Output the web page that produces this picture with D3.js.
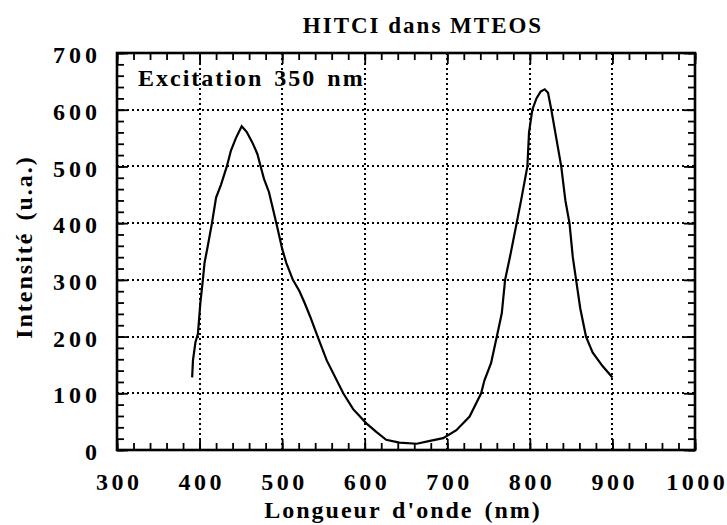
<!DOCTYPE html>
<html><head><meta charset="utf-8">
<script src="https://cdn.jsdelivr.net/npm/d3@7"></script>
<style>body{margin:0;background:#fff}</style>
</head><body>
<svg id="c" width="727" height="525"></svg>
<script>
const wavelength = [391,392,395,398,401,404,406,410,415,420,426,433,438,444,451,457,464,470,474,478,484,493,500,505,513,521,527,534,543,554,574,586,602,614,626,642,663,679,695,711,727,741,745,753,760,766,770,776,784,790,797,799,803,808,813,818,822,826,832,838,843,848,852,856,861,868,876,888,900];
const intensity  = [128,158,190,205,260,300,330,360,400,445,468,500,528,550,571,561,542,522,500,478,455,400,355,330,300,280,260,235,200,158,100,72,47,32,18,13,11,16,21,35,59,100,123,153,200,241,300,341,400,445,500,560,600,620,632,636,630,600,550,500,440,400,340,300,250,200,172,148,128];
const xTicks = [300,400,500,600,700,800,900,1000];
const yTicks = [0,100,200,300,400,500,600,700];
const titleText = "HITCI dans MTEOS";
const annotation = "Excitation 350 nm";
const xLabel = "Longueur d'onde (nm)";
const yLabel = "Intensité (u.a.)";

const svg = d3.select("#c");
const x = d3.scaleLinear().domain([300,1000]).range([117,695]);
const y = d3.scaleLinear().domain([0,700]).range([450,53]);
const font = "'Liberation Serif','Times New Roman',Times,serif";

// grid (dotted)
const grid = svg.append("g").attr("class","grid");
grid.selectAll("line.gv").data(xTicks.slice(1,-1)).join("line").attr("class","gv")
  .attr("x1",d=>Math.round(x(d))).attr("x2",d=>Math.round(x(d))).attr("y1",y(0)).attr("y2",y(700))
  .style("stroke","#000").style("stroke-width","2px").style("stroke-dasharray","2 3");
grid.selectAll("line.gh").data(yTicks.slice(1,-1)).join("line").attr("class","gh")
  .attr("x1",x(300)).attr("x2",x(1000)).attr("y1",d=>Math.round(y(d))).attr("y2",d=>Math.round(y(d)))
  .style("stroke","#000").style("stroke-width","2px").style("stroke-dasharray","2 3");

// minor ticks
const xMinor = d3.range(300,1001,20), yMinor = d3.range(0,701,20);
function clean(g){ g.select(".domain").remove(); g.selectAll("line").attr("stroke","#000").attr("stroke-width",1.8); }
svg.append("g").attr("transform",`translate(0,${y(0)})`).call(d3.axisBottom(x).tickValues(xMinor).tickSize(-7).tickFormat("")).call(clean);
svg.append("g").attr("transform",`translate(0,${y(700)})`).call(d3.axisTop(x).tickValues(xMinor).tickSize(-7).tickFormat("")).call(clean);
svg.append("g").attr("transform",`translate(${x(300)},0)`).call(d3.axisLeft(y).tickValues(yMinor).tickSize(-7).tickFormat("")).call(clean);
svg.append("g").attr("transform",`translate(${x(1000)},0)`).call(d3.axisRight(y).tickValues(yMinor).tickSize(-7).tickFormat("")).call(clean);

// major ticks + labels
svg.append("g").attr("transform",`translate(0,${y(700)})`).call(d3.axisTop(x).tickValues(xTicks).tickSize(-11).tickFormat("")).call(clean);
svg.append("g").attr("transform",`translate(${x(1000)},0)`).call(d3.axisRight(y).tickValues(yTicks).tickSize(-11).tickFormat("")).call(clean);
const xa = svg.append("g").attr("transform",`translate(0,${y(0)})`).call(d3.axisBottom(x).tickValues(xTicks).tickSize(-11).tickFormat(d3.format("d"))).call(clean);
xa.selectAll("text").attr("y",40).attr("dy",null).attr("dx",1.75)
  .attr("font-family",font).attr("font-size",24).attr("font-weight","bold").attr("letter-spacing",3.5).attr("fill","#000");
const ya = svg.append("g").attr("transform",`translate(${x(300)},0)`).call(d3.axisLeft(y).tickValues(yTicks).tickSize(-11).tickFormat(d3.format("d"))).call(clean);
ya.selectAll("text").attr("x",-16).attr("dy","0.4em")
  .attr("font-family",font).attr("font-size",24).attr("font-weight","bold").attr("letter-spacing",4).attr("fill","#000");

// frame
svg.append("rect").attr("x",x(300)).attr("y",y(700)).attr("width",x(1000)-x(300)).attr("height",y(0)-y(700))
  .attr("fill","none").attr("stroke","#000").attr("stroke-width",2.6);

// curve
const pts = wavelength.map((w,i)=>[w,intensity[i]]);
svg.append("path").datum(pts).attr("fill","none").attr("stroke","#000").attr("stroke-width",2.2)
  .attr("stroke-linejoin","miter")
  .attr("d", d3.line().x(d=>x(d[0])).y(d=>y(d[1])));

// texts
svg.append("text").attr("x",422).attr("y",33).attr("text-anchor","middle").attr("dx",1)
  .attr("font-family",font).attr("font-size",23).attr("font-weight","bold").attr("letter-spacing",2).text(titleText);
svg.append("text").attr("x",138).attr("y",86)
  .attr("font-family",font).attr("font-size",24).attr("font-weight","bold").attr("letter-spacing",2).attr("word-spacing",3).text(annotation);
svg.append("text").attr("x",402).attr("y",518).attr("text-anchor","middle").attr("dx",1)
  .attr("font-family",font).attr("font-size",24).attr("font-weight","bold").attr("letter-spacing",2).attr("word-spacing",3).text(xLabel);
svg.append("text").attr("transform","translate(32,248) rotate(-90)").attr("text-anchor","middle").attr("dx",1)
  .attr("font-family",font).attr("font-size",24).attr("font-weight","bold").attr("letter-spacing",2).attr("word-spacing",3).text(yLabel);
</script>
</body></html>
